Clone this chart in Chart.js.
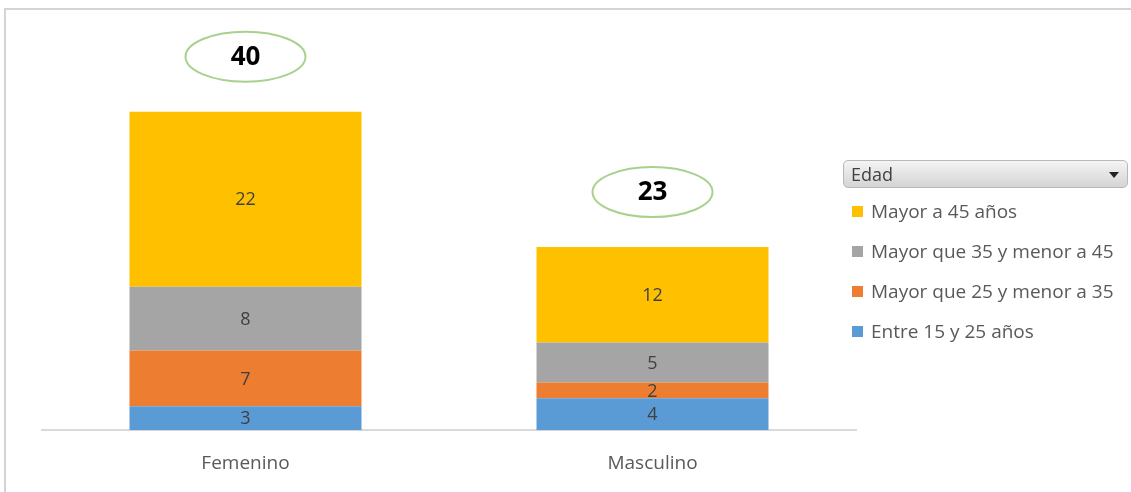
<!DOCTYPE html>
<html>
<head>
<meta charset="utf-8">
<script src="https://cdn.jsdelivr.net/npm/chart.js@4.4.1/dist/chart.umd.min.js"></script>
<style>
  body { margin: 0; background: #fff; font-family: "Open Sans", sans-serif; }
  #wrap { position: relative; width: 1131px; height: 492px; overflow: hidden; }
  #frame { position: absolute; left: 4px; top: 8px; width: 1140px; height: 500px; border-top: 2px solid #d4d4d4; border-left: 2px solid #d4d4d4; }
  #chart { position: absolute; left: 0; top: 0; }
  #filter { position: absolute; left: 843px; top: 160px; width: 285px; height: 28px; border: 1px solid #b8b8b8; border-radius: 5px;
    background: linear-gradient(#f4f4f4, #d4d4d4); font-size: 18px; color: #404040; line-height: 26px; box-sizing: border-box; padding-left: 7px; }
  #filter .arrow { position: absolute; right: 8px; top: 11px; width: 0; height: 0; border-left: 5px solid transparent; border-right: 5px solid transparent; border-top: 6px solid #222; }
  #legend { position: absolute; left: 852px; top: 191px; }
  .item { height: 40px; display: flex; align-items: center; font-size: 19px; color: #595959; }
  .sw { width: 11px; height: 11px; margin-right: 8px; }
</style>
</head>
<body>
<div id="wrap">
  <div id="frame"></div>
  <canvas id="chart" width="1131" height="507"></canvas>
  <div id="filter">Edad<div class="arrow"></div></div>
  <div id="legend"></div>
</div>
<script>
// Chart data
const categories = ['Femenino', 'Masculino'];
const seriesNames = ['Entre 15 y 25 años', 'Mayor que 25 y menor a 35', 'Mayor que 35 y menor a 45', 'Mayor a 45 años'];
const entre15y25 = [3, 4];
const entre25y35 = [7, 2];
const entre35y45 = [8, 5];
const mayor45 = [22, 12];
const seriesColors = ['#5b9bd5', '#ed7d31', '#a5a5a5', '#ffc000'];

const seriesValues = [entre15y25, entre25y35, entre35y45, mayor45];
const FONT = '"Open Sans", sans-serif';

// Build legend (top item = last series)
const legend = document.getElementById('legend');
for (let i = seriesNames.length - 1; i >= 0; i--) {
    const row = document.createElement('div');
    row.className = 'item';
    row.innerHTML = `<span class="sw" style="background:${seriesColors[i]}"></span>${seriesNames[i]}`;
    legend.appendChild(row);
}

// Value labels inside each segment + total ellipse above each bar
const labelsPlugin = {
    id: 'labelsPlugin',
    afterDatasetsDraw(chart) {
        const ctx = chart.ctx;
        ctx.save();
        ctx.textAlign = 'center';
        ctx.textBaseline = 'middle';
        chart.data.datasets.forEach((ds, di) => {
            chart.getDatasetMeta(di).data.forEach((bar, i) => {
                const mid = (bar.y + bar.base) / 2;
                ctx.font = '18px ' + FONT;
                ctx.fillStyle = '#404040';
                ctx.fillText(ds.data[i], bar.x, mid + 1);
            });
        });
        const yScale = chart.scales.y;
        categories.forEach((c, i) => {
            const total = seriesValues.reduce((s, arr) => s + arr[i], 0);
            const bar = chart.getDatasetMeta(0).data[i];
            const cy = yScale.getPixelForValue(total) - 55;
            ctx.beginPath();
            ctx.ellipse(bar.x, cy, 60, 25, 0, 0, Math.PI * 2);
            ctx.fillStyle = '#fff';
            ctx.fill();
            ctx.lineWidth = 2;
            ctx.strokeStyle = '#a9d18e';
            ctx.stroke();
            ctx.font = 'bold 26px ' + FONT;
            ctx.fillStyle = '#000';
            ctx.fillText(total, bar.x, cy + 1);
        });
        ctx.restore();
    }
};

new Chart(document.getElementById('chart'), {
    type: 'bar',
    data: {
        labels: categories,
        datasets: seriesNames.map((name, i) => ({
            label: name,
            data: seriesValues[i],
            backgroundColor: seriesColors[i],
            borderWidth: 0,
            categoryPercentage: 0.57,
            barPercentage: 1
        }))
    },
    options: {
        responsive: false,
        animation: false,
        layout: { padding: { left: 42, right: 275, top: 32, bottom: 10 } },
        plugins: {
            legend: { display: false },
            tooltip: { enabled: false }
        },
        scales: {
            x: {
                stacked: true,
                grid: { display: false, drawTicks: false },
                border: { color: '#d9d9d9', width: 2 },
                ticks: { color: '#595959', font: { size: 19, family: FONT }, padding: 22 }
            },
            y: {
                stacked: true,
                display: false,
                min: 0,
                max: 50
            }
        }
    },
    plugins: [labelsPlugin]
});
</script>
</body>
</html>
